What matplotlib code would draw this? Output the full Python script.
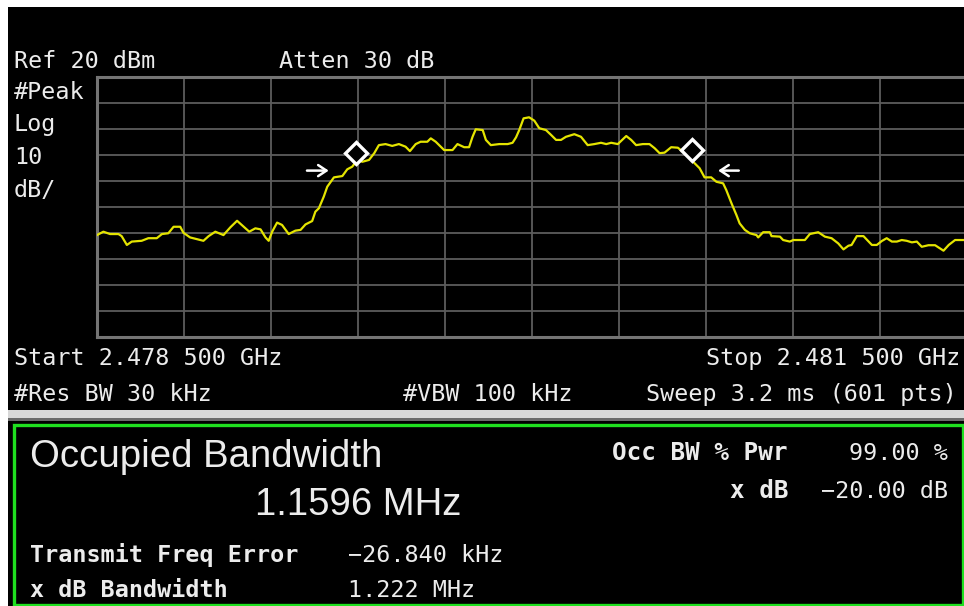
import matplotlib
matplotlib.use('Agg')
import matplotlib.pyplot as plt
from matplotlib.patches import Rectangle
import numpy as np

# trace: offset from start freq (MHz) and level (dBm)
start_ghz = 2.4785
stop_ghz = 2.4815
ref_dbm = 20
db_per_div = 10

freq_offset_mhz = [
    0.000, 0.022, 0.045, 0.074, 0.085, 0.103, 0.120, 0.154, 0.177, 0.206,
    0.224, 0.246, 0.264, 0.287, 0.298, 0.321, 0.345, 0.367, 0.385, 0.408,
    0.436, 0.460, 0.483, 0.506, 0.525, 0.546, 0.564, 0.581, 0.592, 0.604,
    0.621, 0.638, 0.661, 0.684, 0.702, 0.719, 0.742, 0.753, 0.765, 0.782,
    0.794, 0.817, 0.846, 0.863, 0.880, 0.898, 0.915, 0.938, 0.956, 0.972,
    0.995, 1.018, 1.041, 1.064, 1.079, 1.099, 1.116, 1.139, 1.151, 1.168,
    1.197, 1.226, 1.243, 1.266, 1.283, 1.295, 1.306, 1.330, 1.341, 1.358,
    1.387, 1.416, 1.433, 1.445, 1.456, 1.471, 1.490, 1.508, 1.525, 1.548,
    1.566, 1.583, 1.600, 1.617, 1.646, 1.669, 1.692, 1.715, 1.738, 1.756,
    1.773, 1.796, 1.813, 1.825, 1.842, 1.859, 1.882, 1.905, 1.923, 1.940,
    1.957, 1.980, 2.003, 2.026, 2.044, 2.061, 2.078, 2.095, 2.118, 2.136,
    2.159, 2.170, 2.188, 2.205, 2.216, 2.234, 2.251, 2.274, 2.280, 2.297,
    2.320, 2.326, 2.355, 2.366, 2.389, 2.401, 2.441, 2.458, 2.487, 2.510,
    2.533, 2.556, 2.574, 2.591, 2.602, 2.620, 2.643, 2.672, 2.689, 2.706,
    2.723, 2.741, 2.758, 2.775, 2.792, 2.810, 2.827, 2.844, 2.867, 2.890,
    2.919, 2.937, 2.959, 3.000,
]
level_dbm = [
    -40.8, -39.5, -40.4, -40.4, -41.2, -44.6, -43.3, -43.0, -42.0, -42.0,
    -40.4, -40.1, -37.6, -37.6, -39.9, -41.7, -42.4, -43.0, -41.2, -39.5,
    -40.8, -37.8, -35.3, -37.6, -39.5, -38.2, -38.6, -41.7, -43.0, -39.5,
    -36.0, -36.9, -40.4, -39.1, -38.8, -36.7, -35.4, -31.8, -30.5, -26.0,
    -22.2, -18.6, -18.1, -15.5, -14.5, -11.9, -12.6, -11.9, -9.3, -6.2,
    -5.8, -6.5, -5.8, -6.8, -8.5, -5.8, -4.9, -4.9, -3.6, -4.9,
    -8.1, -8.1, -5.8, -7.0, -7.0, -3.0, -0.1, -0.4, -4.2, -6.2,
    -5.8, -5.8, -5.3, -3.2, -0.4, 4.1, 4.5, 3.2, 0.3, -0.4,
    -2.3, -4.2, -4.2, -3.0, -2.0, -3.0, -6.2, -5.8, -5.3, -5.8,
    -5.3, -5.8, -4.0, -2.7, -4.2, -6.2, -5.8, -5.8, -7.4, -9.3,
    -9.1, -7.0, -7.2, -9.3, -11.3, -13.2, -15.1, -18.6, -18.6, -20.3,
    -20.9, -23.5, -28.6, -33.1, -36.3, -38.8, -40.1, -40.8, -41.7, -39.7,
    -39.7, -41.2, -41.4, -42.7, -43.3, -42.7, -42.7, -40.4, -39.7, -41.4,
    -42.0, -44.0, -46.3, -44.9, -44.6, -41.2, -41.2, -44.6, -44.6, -43.1,
    -42.0, -43.3, -43.3, -42.7, -43.0, -43.6, -43.3, -45.3, -44.7, -44.7,
    -46.8, -44.6, -42.7, -42.7,
]

# occupied bandwidth markers and the x dB arrows
marker_offset_mhz = [0.894, 2.053]
marker_dbm = [-9.2, -8.1]
arrow_tail_mhz = [0.724, 2.213]
arrow_tip_mhz = [0.799, 2.142]
arrow_dbm = -16.0

W, H = 964, 606
TXT = '#ececec'
MONO = ['DejaVu Sans Mono']
SANS = ['Liberation Sans', 'DejaVu Sans']


def fx(x):
    return x / W


def fy(y):
    return 1 - y / H


def box(fig, x0, y0, x1, y1, **kw):
    fig.add_artist(Rectangle((fx(x0), fy(y1)), fx(x1) - fx(x0), fy(y0) - fy(y1),
                             transform=fig.transFigure, **kw))


def label(fig, x, y, s, ha='left', size=16.8, weight='normal', family=MONO):
    fig.text(fx(x), fy(y), s, ha=ha, va='baseline', color=TXT,
             fontsize=size, fontweight=weight, family=family, zorder=10)


fig = plt.figure(figsize=(W / 100, H / 100), dpi=100, facecolor='white')

# screen background (kept under the axes)
box(fig, 8, 7, 966, 410, facecolor='black', edgecolor='none', zorder=-5)
box(fig, 8, 410, 966, 418, facecolor='#d8d8d8', edgecolor='none', zorder=-5)
box(fig, 8, 418, 966, 421, facecolor='#6a6a6a', edgecolor='none', zorder=-5)
box(fig, 8, 421, 966, 607, facecolor='black', edgecolor='none', zorder=-5)
box(fig, 13.5, 424.5, 962.5, 604.5, facecolor='none', edgecolor='#1fe01f',
    linewidth=2.4, zorder=-4)

# trace area
ax = fig.add_axes([fx(97), fy(337), fx(967) - fx(97), fy(77) - fy(337)])
ax.set_zorder(2)
ax.set_facecolor('black')
span_mhz = (stop_ghz - start_ghz) * 1000
ax.set_xlim(0, span_mhz)
ax.set_ylim(ref_dbm - 10 * db_per_div, ref_dbm)
ax.set_xticks(np.linspace(0, span_mhz, 11))
ax.set_yticks(np.arange(ref_dbm - 10 * db_per_div, ref_dbm + 1, db_per_div))
ax.grid(True, color='#5c5c5c', linewidth=1.3)
ax.tick_params(length=0, labelbottom=False, labelleft=False)
for sp in ax.spines.values():
    sp.set_color('#747474')
    sp.set_linewidth(2.2)

ax.plot(freq_offset_mhz, level_dbm, color='#e4e400', linewidth=1.6, zorder=5)
ax.plot(marker_offset_mhz, marker_dbm, 'D', markersize=11.5, markerfacecolor='black',
        markeredgecolor='white', markeredgewidth=2.4, zorder=6, linestyle='none')
for tail, tip in zip(arrow_tail_mhz, arrow_tip_mhz):
    ax.annotate('', xy=(tip, arrow_dbm), xytext=(tail, arrow_dbm),
                arrowprops=dict(arrowstyle='->,head_length=0.6,head_width=0.4',
                                color='white', lw=1.8, shrinkA=0, shrinkB=0))

# annotations around the trace
label(fig, 14, 68, 'Ref 20 dBm')
label(fig, 279, 68, 'Atten 30 dB')
label(fig, 14, 99, '#Peak')
label(fig, 14, 131, 'Log')
label(fig, 14, 164, '10')
label(fig, 14, 197, 'dB/')
label(fig, 14, 365, 'Start 2.478 500 GHz')
label(fig, 960, 365, 'Stop 2.481 500 GHz', ha='right')
label(fig, 14, 401, '#Res BW 30 kHz')
label(fig, 403, 401, '#VBW 100 kHz')
label(fig, 957, 401, 'Sweep 3.2 ms (601 pts)', ha='right')

# measurement panel
label(fig, 30, 467, 'Occupied Bandwidth', size=27.6, family=SANS)
label(fig, 255, 515, '1.1596 MHz', size=27.6, family=SANS)
label(fig, 30, 562, 'Transmit Freq Error', weight='bold')
label(fig, 30, 597, 'x dB Bandwidth', weight='bold')
label(fig, 348, 562, '\u221226.840 kHz')
label(fig, 348, 597, '1.222 MHz')
label(fig, 788, 460, 'Occ BW % Pwr', ha='right', size=17.5, weight='bold')
label(fig, 948, 460, '99.00 %', ha='right')
label(fig, 788, 498, 'x dB', ha='right', size=17.5, weight='bold')
label(fig, 948, 498, '\u221220.00 dB', ha='right')

fig.savefig('out.png', dpi=100, facecolor='white')
